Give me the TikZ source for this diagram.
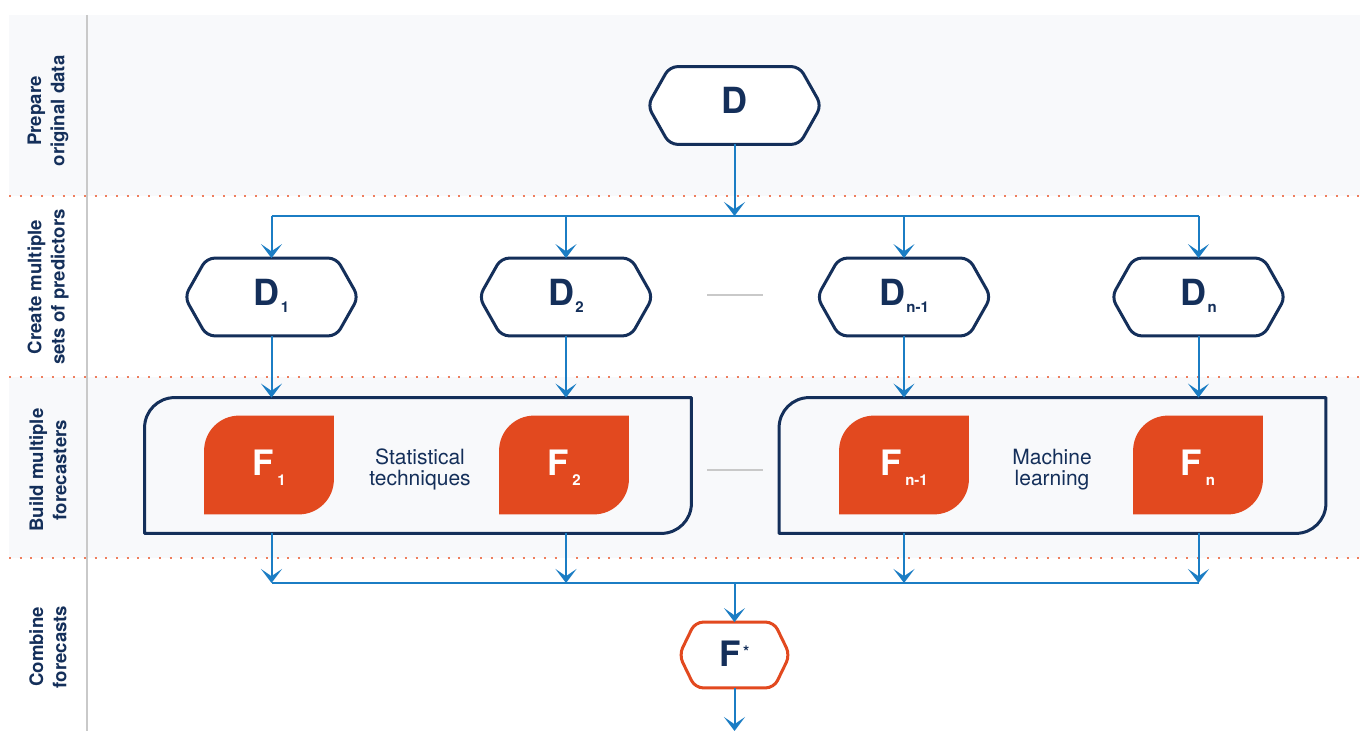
\documentclass[tikz,border=0pt]{standalone}
\usepackage{fontspec}
\setmainfont{TeX Gyre Heros}
\usetikzlibrary{arrows.meta,calc}

\definecolor{navy}{HTML}{142F5A}
\definecolor{flowblue}{HTML}{1B7DC4}
\definecolor{fcol}{HTML}{E2491F}
\definecolor{bandgray}{HTML}{F8F9FB}
\definecolor{dotcol}{HTML}{EE7E5E}
\definecolor{rulegray}{HTML}{C9C9C9}

\pgfdeclarelayer{back}
\pgfdeclarelayer{frame}
\pgfsetlayers{back,frame,main}

% hexagonal outline around a node: node, point depth, colour
\newcommand\hexframe[3]{%
  \draw[hexline,draw=#3] (#1.west) -- ($(#1.north west)+(#2,0)$) -- ($(#1.north east)+(-#2,0)$)
    -- (#1.east) -- ($(#1.south east)+(-#2,0)$) -- ($(#1.south west)+(#2,0)$) -- cycle;}
% outline with rounded top-left and bottom-right corners: style, node, radius
\newcommand\cornerpath[3]{%
  \path[#1] (#2.south west) -- ($(#2.north west)+(0,#3)$) arc[start angle=180,end angle=270,radius=#3]
    -- (#2.north east) -- ($(#2.south east)+(0,-#3)$) arc[start angle=0,end angle=90,radius=#3] -- cycle;}
% subscripts
\newcommand\dsub[1]{\kern0.6pt\raisebox{-3.5pt}{\fontsize{7.5}{7.5}\selectfont #1}}
\newcommand\fsub[1]{\kern1.8pt\raisebox{-5pt}{\fontsize{7.5}{7.5}\selectfont #1}}

\begin{document}
\begin{tikzpicture}[x=0.5pt,y=-0.5pt,
  hexbox/.style={rectangle, minimum width=86.5pt, minimum height=38.5pt, inner sep=0pt,
    text=navy, font=\fontsize{18}{18}\selectfont\bfseries, text height=12pt, text depth=3.5pt},
  starbox/.style={rectangle, minimum width=55pt, minimum height=32.5pt, inner sep=0pt,
    text=navy, font=\fontsize{17.5}{17.5}\selectfont\bfseries, text height=12pt, text depth=0pt},
  leafbox/.style={rectangle, minimum width=64.5pt, minimum height=49pt, inner sep=0pt,
    text=white, font=\fontsize{17.5}{17.5}\selectfont\bfseries, text height=12pt, text depth=1.5pt},
  groupbox/.style={rectangle, minimum width=273pt, minimum height=67.5pt, inner sep=0pt},
  hexline/.style={line width=1.5pt, rounded corners=4pt, fill=white},
  flow/.style={draw=flowblue, line width=1pt},
  arrowin/.style={-{Stealth[length=7pt,width=10.5pt,inset=3.6pt]}},
  lane/.style={rotate=90, align=center, font=\fontsize{9.3}{11.6}\selectfont\bfseries, text=navy},
  note/.style={align=center, font=\fontsize{10.5}{10.5}\selectfont, text=navy},
  sep/.style={draw=dotcol, line width=1pt, dash pattern=on 1pt off 4.35pt},
  gap/.style={draw=rulegray, line width=1.3pt}]

\useasboundingbox (0,0) rectangle (1360,731);

% lanes
\begin{pgfonlayer}{back}
  \fill[white] (0,0) rectangle (1360,731);
  \fill[bandgray] (9,15) rectangle (1360,196);
  \fill[bandgray] (9,377) rectangle (1360,558);
  \draw[rulegray, line width=1.25pt] (87,15) -- (87,731);
  \draw[sep] (9,196) -- (1360,196);
  \draw[sep] (9,377) -- (1360,377);
  \draw[sep] (9,558) -- (1360,558);
\end{pgfonlayer}

\node[lane] (l1) at (48,111) {Prepare\\original data};
\node[lane] (l2) at (48,287) {Create multiple\\sets of predictors};
\node[lane] (l3) at (48,470) {Build multiple\\forecasters};
\node[lane] (l4) at (48,647) {Combine\\forecasts};

% data sets
\node[hexbox] (D)  at (734.5,105.5) {D};
\node[hexbox] (D1) at (271.5,297) {D\dsub{1}};
\node[hexbox] (D2) at (566,297) {D\dsub{2}};
\node[hexbox] (Dm) at (904,297) {D\dsub{n-1}};
\node[hexbox] (Dn) at (1198.5,297) {D\dsub{n}};

% forecaster groups
\node[groupbox] (G1) at (418,465.5) {};
\node[groupbox] (G2) at (1052.5,465.5) {};
\node[leafbox] (F1) at (269,465) {F\fsub{1}};
\node[leafbox] (F2) at (564,465) {F\fsub{2}};
\node[leafbox] (Fm) at (904,465) {F\fsub{n-1}};
\node[leafbox] (Fn) at (1198,465) {F\fsub{n}};
\node[note] (t1) at (420,469) {Statistical\\techniques};
\node[note] (t2) at (1052,470) {Machine\\learning};

% combined forecast
\node[starbox] (Fs) at (734.5,655) {F\kern1pt\raisebox{5pt}{\fontsize{8}{8}\selectfont *}};

\begin{pgfonlayer}{frame}
  \hexframe{D}{22}{navy}
  \hexframe{D1}{22}{navy}
  \hexframe{D2}{22}{navy}
  \hexframe{Dm}{22}{navy}
  \hexframe{Dn}{22}{navy}
  \hexframe{Fs}{16}{fcol}
  \cornerpath{draw=navy, fill=bandgray, line width=1.5pt, line join=round}{G1}{30}
  \cornerpath{draw=navy, fill=bandgray, line width=1.5pt, line join=round}{G2}{30}
  \cornerpath{fill=fcol}{F1}{35}
  \cornerpath{fill=fcol}{F2}{35}
  \cornerpath{fill=fcol}{Fm}{35}
  \cornerpath{fill=fcol}{Fn}{35}
\end{pgfonlayer}

% gaps in the series
\draw[gap] (707,295) -- (763,295);
\draw[gap] (707,470) -- (763,470);

% flow
\coordinate (top) at (734.5,216);
\coordinate (low) at (734.5,583);
\coordinate (out) at (734.5,731);

\draw[flow,arrowin] (D.south) -- (top);
\draw[flow] (D1 |- top) -- (Dn |- top);
\foreach \n in {D1,D2,Dm,Dn}
  \draw[flow,arrowin] (\n |- top) -- (\n.north);
\foreach \n in {D1,D2} {
  \draw[flow,arrowin] (\n.south) -- (\n.south |- G1.north);
  \draw[flow,arrowin] (\n.south |- G1.south) -- (\n |- low);
}
\foreach \n in {Dm,Dn} {
  \draw[flow,arrowin] (\n.south) -- (\n.south |- G2.north);
  \draw[flow,arrowin] (\n.south |- G2.south) -- (\n |- low);
}
\draw[flow] (D1 |- low) -- (Dn |- low);
\draw[flow,arrowin] (low) -- (Fs.north);
\draw[flow,arrowin] (Fs.south) -- (out);

\end{tikzpicture}
\end{document}
